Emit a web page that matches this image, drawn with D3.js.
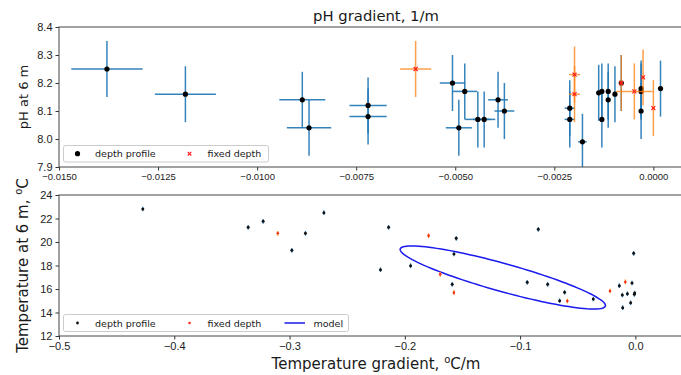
<!DOCTYPE html>
<html>
<head>
<meta charset="utf-8">
<script src="https://cdn.jsdelivr.net/npm/d3@7"></script>
<style>
  body { margin: 0; background: #fff; }
  svg { display: block; font-family: "DejaVu Sans", sans-serif; }
  .tick text { fill: #222; }
  .tick line { stroke: #333; }
</style>
</head>
<body>
<script>
// pH panel, depth profile
const phGradProfile = [-0.01379, -0.01181, -0.00886, -0.00869, -0.0072, -0.0072, -0.00507, -0.00476, -0.00491,
  -0.00443, -0.00427, -0.00392, -0.00376, -0.00211, -0.00211, -0.00179, -0.00138, -0.0013, -0.0013,
  -0.00114, -0.00114, -0.00097, -0.00081, -0.00031, -0.00031, -0.00031, 0.00018];
const phProfile = [8.25, 8.16, 8.14, 8.04, 8.12, 8.08, 8.20, 8.17, 8.04,
  8.07, 8.07, 8.14, 8.10, 8.11, 8.07, 7.99, 8.165, 8.17, 8.07,
  8.17, 8.14, 8.16, 8.20, 8.18, 8.17, 8.10, 8.18];
const phGradErrProfile = [0.0009, 0.00077, 0.00058, 0.00056, 0.00047, 0.00047, 0.00032, 0.00031, 0.00033,
  0.00032, 0.00028, 0.00025, 0.00025, 0.00013, 0.00013, 0.00011, 0.00005, 0.00005, 0.00005,
  0.00004, 0.00004, 0.00004, 0.00004, 0.00004, 0.00004, 0.00004, 0.00004];
const phErrProfile = [0.1, 0.1, 0.1, 0.1, 0.1, 0.1, 0.1, 0.1, 0.1,
  0.1, 0.1, 0.1, 0.1, 0.1, 0.1, 0.1, 0.1, 0.1, 0.1,
  0.1, 0.1, 0.1, 0.1, 0.1, 0.1, 0.1, 0.1];

// pH panel, fixed depth
const phGradFixed = [-0.0060, -0.00199, -0.00199, -0.00081, -0.00048, -0.00026, 0.0000];
const phFixed = [8.25, 8.23, 8.16, 8.20, 8.17, 8.22, 8.11];
const phGradErrFixed = [0.00039, 0.00014, 0.00014, 0.00004, 0.00046, 0.00004, 0.00004];
const phErrFixed = [0.1, 0.1, 0.1, 0.1, 0.1, 0.1, 0.1];

// temperature panel
const tGradProfile = [-0.4273, -0.3359, -0.3229, -0.298, -0.2862, -0.2702, -0.2141, -0.2211, -0.1554,
  -0.195, -0.1574, -0.1589, -0.0842, -0.0938, -0.0761, -0.0614, -0.0657, -0.0365,
  -0.0015, -0.0139, -0.0029, -0.0113, -0.0069, -0.0006, -0.0009, -0.0041, -0.011];
const tProfile = [22.81, 21.25, 21.76, 19.29, 20.74, 22.5, 21.25, 17.64, 20.31,
  17.98, 18.98, 16.4, 21.08, 16.57, 16.4, 15.72, 15.0, 15.15,
  19.04, 16.28, 16.51, 15.49, 15.6, 15.66, 15.55, 14.83, 14.41];
const tGradFixed = [-0.3102, -0.1794, -0.1693, -0.1574, -0.059, -0.022, -0.0087];
const tFixed = [20.74, 20.54, 17.25, 15.69, 14.98, 15.83, 16.6];
const tErr = 0.2;

// model ellipse: centre and two half axes (data units)
const modelCenter = [-0.115, 16.98];
const modelAxisA = [0.0890, -2.426];
const modelAxisB = [-0.00319, -1.149];

const phTicksX = [-0.015, -0.0125, -0.01, -0.0075, -0.005, -0.0025, 0];
const phTicksY = [7.9, 8.0, 8.1, 8.2, 8.3, 8.4];
const tTicksX = [-0.5, -0.4, -0.3, -0.2, -0.1, 0.0];
const tTicksY = [12, 14, 16, 18, 20, 22, 24];

const width = 681, height = 375;
const left = 59, right = 693;
const top1 = 27, bottom1 = 167;
const top2 = 195, bottom2 = 336;

const blue = "#1f77b4", orange = "#ff7f0e";

const svg = d3.select("body").append("svg").attr("width", width).attr("height", height);

svg.append("defs").append("clipPath").attr("id", "clip1")
  .append("rect").attr("x", left).attr("y", top1).attr("width", right - left).attr("height", bottom1 - top1);
svg.select("defs").append("clipPath").attr("id", "clip2")
  .append("rect").attr("x", left).attr("y", top2).attr("width", right - left).attr("height", bottom2 - top2);

// ---------- top panel ----------
let x1 = d3.scaleLinear().domain([-0.015, 0.001]).range([left, right]);
let y1 = d3.scaleLinear().domain([7.9, 8.4]).range([bottom1, top1]);

const profile = phGradProfile.map((g, i) => ({ x: g, y: phProfile[i], xe: phGradErrProfile[i], ye: phErrProfile[i] }));
const fixed = phGradFixed.map((g, i) => ({ x: g, y: phFixed[i], xe: phGradErrFixed[i], ye: phErrFixed[i] }));

function errorbars(g, data, xs, ys, color, opacity) {
  g.selectAll(null).data(data).enter().append("line")
    .attr("x1", d => xs(d.x - d.xe)).attr("x2", d => xs(d.x + d.xe))
    .attr("y1", d => ys(d.y)).attr("y2", d => ys(d.y))
    .attr("stroke", color).attr("stroke-width", 1.5).attr("opacity", opacity);
  g.selectAll(null).data(data).enter().append("line")
    .attr("x1", d => xs(d.x)).attr("x2", d => xs(d.x))
    .attr("y1", d => ys(d.y - d.ye)).attr("y2", d => ys(d.y + d.ye))
    .attr("stroke", color).attr("stroke-width", 1.5).attr("opacity", opacity);
}

function xmark(sel, cx, cy, s) {
  sel.append("path")
    .attr("d", `M${cx - s},${cy - s}L${cx + s},${cy + s}M${cx - s},${cy + s}L${cx + s},${cy - s}`)
    .attr("stroke", "#ff1a1a").attr("stroke-width", 1.1).attr("fill", "none");
}

let p1 = svg.append("g").attr("clip-path", "url(#clip1)");
errorbars(p1, profile, x1, y1, blue, 0.9);
p1.selectAll(".dot").data(profile).enter().append("circle")
  .attr("class", "dot")
  .attr("cx", d => x1(d.x)).attr("cy", d => y1(d.y)).attr("r", 2.6).attr("fill", "#000");
errorbars(p1, fixed, x1, y1, orange, 0.75);
fixed.forEach(d => xmark(p1, x1(d.x), y1(d.y), 2));

svg.append("g")
  .attr("transform", "translate(0," + bottom1 + ")")
  .call(d3.axisBottom(x1).tickValues(phTicksX).tickFormat(d3.format(".4f")).tickSize(3.5).tickPadding(2.5).tickSizeOuter(0))
  .call(g => g.select(".domain").remove())
  .selectAll("text").style("font-size", "9.5px");

svg.append("g")
  .attr("transform", "translate(" + left + ",0)")
  .call(d3.axisLeft(y1).tickValues(phTicksY).tickFormat(d3.format(".1f")).tickSize(3.5).tickPadding(3).tickSizeOuter(0))
  .call(g => g.select(".domain").remove())
  .selectAll("text").style("font-size", "11px");

svg.append("rect").attr("x", left).attr("y", top1).attr("width", right - left).attr("height", bottom1 - top1)
  .attr("fill", "none").attr("stroke", "#444").attr("stroke-width", 1);

svg.append("text").attr("x", (left + right) / 2).attr("y", 21).attr("text-anchor", "middle")
  .style("font-size", "14.8px").attr("fill", "#1a1a1a").text("pH gradient, 1/m");

svg.append("text").attr("transform", "translate(28," + (top1 + bottom1) / 2 + ") rotate(-90)")
  .attr("text-anchor", "middle").style("font-size", "13px").attr("fill", "#1a1a1a").text("pH at 6 m");

// legend top
let lg1 = svg.append("g");
lg1.append("rect").attr("x", 63.5).attr("y", 145.5).attr("width", 205).attr("height", 16.5).attr("rx", 2)
  .attr("fill", "#fff").attr("fill-opacity", 0.85).attr("stroke", "#ccc");
lg1.append("circle").attr("cx", 77.5).attr("cy", 153.7).attr("r", 2.6).attr("fill", "#000");
lg1.append("text").attr("x", 95).attr("y", 157).style("font-size", "9.5px").attr("fill", "#1a1a1a").text("depth profile");
xmark(lg1, 189.5, 153.7, 1.8);
lg1.append("text").attr("x", 207.5).attr("y", 157).style("font-size", "9.5px").attr("fill", "#1a1a1a").text("fixed depth");

// ---------- bottom panel ----------
let x2 = d3.scaleLinear().domain([-0.5, 0.05]).range([left, right]);
let y2 = d3.scaleLinear().domain([12, 24]).range([bottom2, top2]);

let p2 = svg.append("g").attr("clip-path", "url(#clip2)");

const ellipse = d3.range(0, 361, 3).map(a => {
  const t = a * Math.PI / 180;
  return [modelCenter[0] + modelAxisA[0] * Math.cos(t) + modelAxisB[0] * Math.sin(t),
          modelCenter[1] + modelAxisA[1] * Math.cos(t) + modelAxisB[1] * Math.sin(t)];
});
p2.append("path").datum(ellipse)
  .attr("d", d3.line().x(d => x2(d[0])).y(d => y2(d[1])).curve(d3.curveLinearClosed))
  .attr("fill", "none").attr("stroke", "#1a1aee").attr("stroke-width", 1.5);

const tProf = tGradProfile.map((g, i) => ({ x: g, y: tProfile[i] }));
const tFix = tGradFixed.map((g, i) => ({ x: g, y: tFixed[i] }));

p2.selectAll(".tpbar").data(tProf).enter().append("line")
  .attr("x1", d => x2(d.x)).attr("x2", d => x2(d.x))
  .attr("y1", d => y2(d.y - tErr)).attr("y2", d => y2(d.y + tErr))
  .attr("stroke", blue).attr("stroke-width", 1.2);
p2.selectAll(".tp").data(tProf).enter().append("circle")
  .attr("cx", d => x2(d.x)).attr("cy", d => y2(d.y)).attr("r", 1.5).attr("fill", "#111");
p2.selectAll(".tfbar").data(tFix).enter().append("line")
  .attr("x1", d => x2(d.x)).attr("x2", d => x2(d.x))
  .attr("y1", d => y2(d.y - tErr)).attr("y2", d => y2(d.y + tErr))
  .attr("stroke", orange).attr("stroke-width", 1.2);
p2.selectAll(".tf").data(tFix).enter().append("circle")
  .attr("cx", d => x2(d.x)).attr("cy", d => y2(d.y)).attr("r", 1.3).attr("fill", "#f0301a");

svg.append("g")
  .attr("transform", "translate(0," + bottom2 + ")")
  .call(d3.axisBottom(x2).tickValues(tTicksX).tickFormat(d3.format(".1f")).tickSize(3.5).tickPadding(2.5).tickSizeOuter(0))
  .call(g => g.select(".domain").remove())
  .selectAll("text").style("font-size", "11px");

svg.append("g")
  .attr("transform", "translate(" + left + ",0)")
  .call(d3.axisLeft(y2).tickValues(tTicksY).tickFormat(d3.format("d")).tickSize(3.5).tickPadding(3).tickSizeOuter(0))
  .call(g => g.select(".domain").remove())
  .selectAll("text").style("font-size", "11px");

svg.append("rect").attr("x", left).attr("y", top2).attr("width", right - left).attr("height", bottom2 - top2)
  .attr("fill", "none").attr("stroke", "#444").attr("stroke-width", 1);

let xl = svg.append("text").attr("x", (left + right) / 2).attr("y", 369).attr("text-anchor", "middle")
  .style("font-size", "15px").attr("fill", "#1a1a1a");
xl.append("tspan").text("Temperature gradient, ");
xl.append("tspan").attr("dy", -6).style("font-size", "10px").text("o");
xl.append("tspan").attr("dy", 6).text("C/m");

let yl = svg.append("text").attr("transform", "translate(28," + (top2 + bottom2) / 2 + ") rotate(-90)")
  .attr("text-anchor", "middle").style("font-size", "15px").attr("fill", "#1a1a1a");
yl.append("tspan").text("Temperature at 6 m, ");
yl.append("tspan").attr("dy", -6).style("font-size", "10px").text("o");
yl.append("tspan").attr("dy", 6).text("C");

// legend bottom
let lg2 = svg.append("g");
lg2.append("rect").attr("x", 63.5).attr("y", 314.5).attr("width", 285).attr("height", 17).attr("rx", 2)
  .attr("fill", "#fff").attr("fill-opacity", 0.85).attr("stroke", "#ccc");
lg2.append("circle").attr("cx", 77.5).attr("cy", 323).attr("r", 1.4).attr("fill", "#111");
lg2.append("text").attr("x", 95).attr("y", 326.5).style("font-size", "9.5px").attr("fill", "#1a1a1a").text("depth profile");
lg2.append("circle").attr("cx", 189.5).attr("cy", 323).attr("r", 1.3).attr("fill", "#f0301a");
lg2.append("text").attr("x", 207.5).attr("y", 326.5).style("font-size", "9.5px").attr("fill", "#1a1a1a").text("fixed depth");
lg2.append("line").attr("x1", 284.5).attr("x2", 305).attr("y1", 323).attr("y2", 323)
  .attr("stroke", "#1a1aee").attr("stroke-width", 1.5);
lg2.append("text").attr("x", 313.5).attr("y", 326.5).style("font-size", "9.5px").attr("fill", "#1a1a1a").text("model");
</script>
</body>
</html>
